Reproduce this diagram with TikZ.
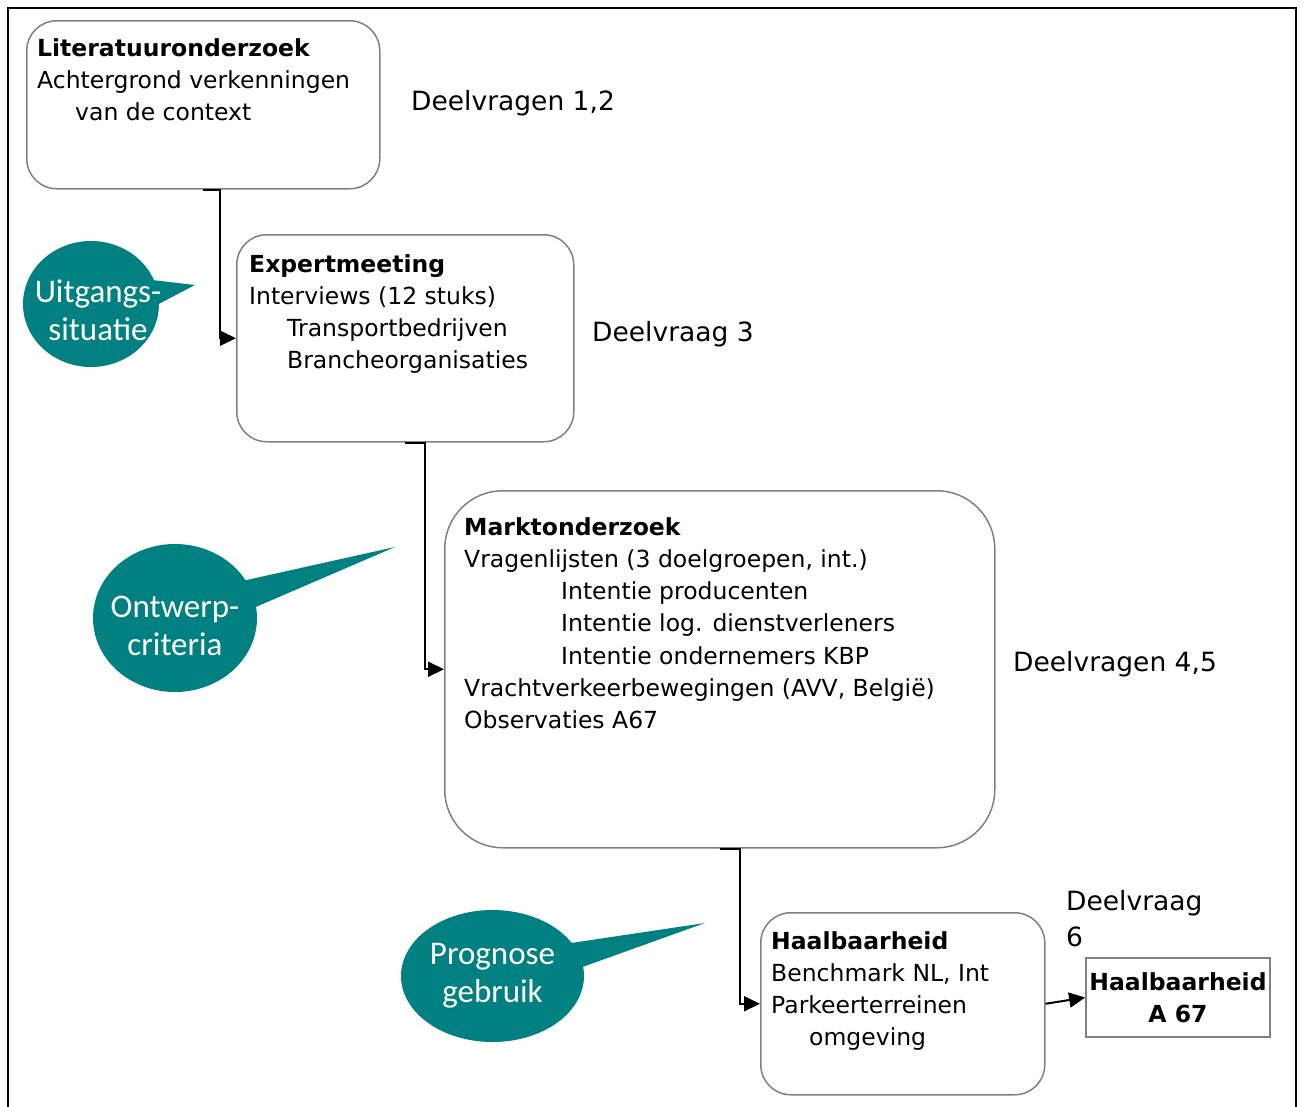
\documentclass[tikz,border=0pt]{standalone}
\usepackage{fontspec}
\setmainfont{DejaVu Sans}
\newfontfamily\calloutfont{Carlito}
\usetikzlibrary{arrows.meta,shapes.callouts}

\definecolor{calloutteal}{RGB}{0,128,128}
\definecolor{boxgray}{RGB}{128,128,128}

\begin{document}
\begin{tikzpicture}[x=1pt, y=-1pt,
    stagebox/.style={rectangle, draw=boxgray, line width=1.5pt, rounded corners=30pt, anchor=north west, inner sep=0pt},
    boxtext/.style={anchor=north west, inner sep=0pt, align=left, font=\fontsize{23.5}{32.3}\selectfont},
    sidetext/.style={inner sep=0pt, align=left, font=\fontsize{26.5}{36}\selectfont},
    flow/.style={line width=2pt, -{Triangle[length=16pt, width=15pt]}},
    bubble/.style={ellipse callout, fill=calloutteal, draw=none, callout pointer arc=22, inner sep=0pt},
    bubbletext/.style={text=white, align=center, font=\calloutfont\fontsize{33}{38}\selectfont}]
    \path[use as bounding box, clip] (0,0) rectangle (1304,1106);
    %% outer frame
    \draw[line width=2.5pt] (8,8) rectangle (1296,1130);

    %% Stages
    \node[stagebox, minimum width=353pt, minimum height=168pt] (lit) at (26,20) {};
    \node[boxtext] (lit-txt) at (37,38) {\textbf{Literatuuronderzoek}\\Achtergrond verkenningen\\\hspace*{38pt}van de context};
    \node[sidetext, anchor=base west] (dv12) at (411,110) {Deelvragen 1,2};

    \node[stagebox, minimum width=337pt, minimum height=207pt] (exp) at (236,234) {};
    \node[boxtext] (exp-txt) at (249,254) {\textbf{Expertmeeting}\\Interviews (12 stuks)\\\hspace*{38pt}Transportbedrijven\\\hspace*{38pt}Brancheorganisaties};
    \node[sidetext, anchor=base west] (dv3) at (592,341) {Deelvraag 3};

    \node[stagebox, rounded corners=58pt, minimum width=550pt, minimum height=357pt] (markt) at (444,490) {};
    \node[boxtext] (markt-txt) at (464,517) {\textbf{Marktonderzoek}\\Vragenlijsten (3 doelgroepen, int.)\\\hspace*{97pt}Intentie producenten\\\hspace*{97pt}Intentie log. dienstverleners\\\hspace*{97pt}Intentie ondernemers KBP\\Vrachtverkeerbewegingen (AVV, België)\\Observaties A67};
    \node[sidetext, anchor=base west] (dv45) at (1013,671) {Deelvragen 4,5};

    \node[stagebox, minimum width=284pt, minimum height=182pt] (haal) at (760,912) {};
    \node[boxtext] (haal-txt) at (771,931) {\textbf{Haalbaarheid}\\Benchmark NL, Int\\Parkeerterreinen\\\hspace*{38pt}omgeving};
    \node[sidetext, anchor=north west] (dv6) at (1066,890) {Deelvraag\\6};

    \node[rectangle, draw=boxgray, line width=2pt, minimum width=182pt, minimum height=79pt, align=center, font=\bfseries\fontsize{23.5}{32}\selectfont] (a67) at (1178,997.5) {Haalbaarheid\\A 67};

    %% Connectors
    \draw[flow] (lit.south) -- ++(17,0) |- (exp.west);
    \draw[flow] (exp.south) -- ++(20,0) |- (markt.west);
    \draw[flow] (markt.south) -- ++(20,0) |- (haal.west);
    \draw[flow] (haal.east) -- (a67.west);

    %% Callouts
    \node[bubble, minimum width=136pt, minimum height=126pt, callout absolute pointer={(195,285)},
        label={[bubbletext, xshift=7pt, yshift=-6pt]center:Uitgangs-\\situatie}] (uitg) at (91,304) {};
    \node[bubble, minimum width=164pt, minimum height=148pt, callout absolute pointer={(395,547)},
        label={[bubbletext, yshift=-8pt]center:Ontwerp-\\criteria}] (ontw) at (175,618) {};
    \node[bubble, minimum width=183pt, minimum height=132pt, callout absolute pointer={(705,923)},
        label={[bubbletext]center:Prognose\\gebruik}] (progn) at (492.5,976) {};
\end{tikzpicture}
\end{document}
